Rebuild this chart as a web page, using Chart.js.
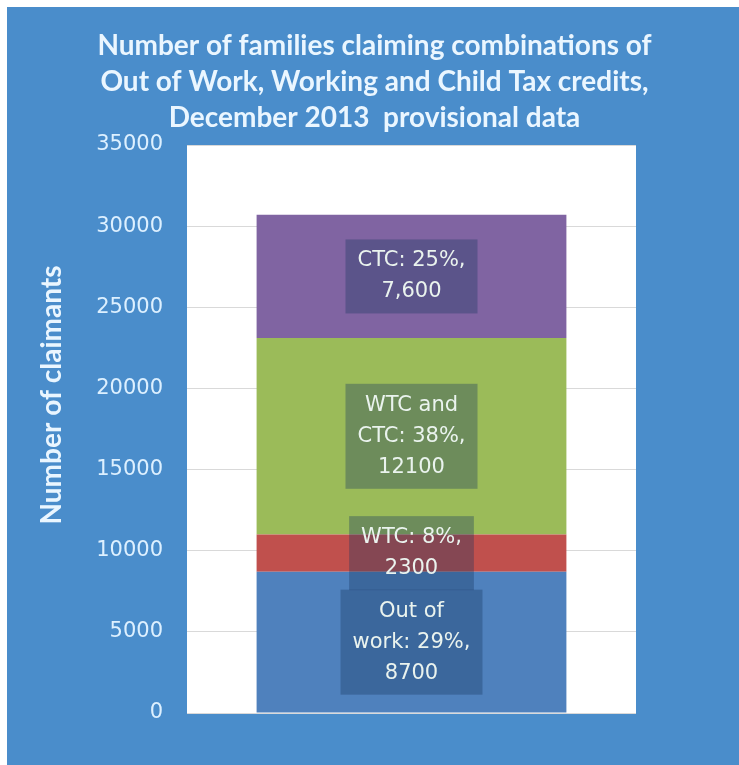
<!DOCTYPE html>
<html>
<head>
<meta charset="utf-8">
<script src="https://cdn.jsdelivr.net/npm/chart.js@4"></script>
<style>
  html, body { margin: 0; padding: 0; background: #ffffff; }
  #wrap { position: relative; width: 739px; height: 765px; }
</style>
</head>
<body>
<div id="wrap"><canvas id="taxChart"></canvas></div>
<script>
// Data
const categories = ['December 2013'];
const seriesNames = ['Out of work', 'WTC', 'WTC and CTC', 'CTC'];
const seriesValues = [8700, 2300, 12100, 7600];
const seriesColors = ['#4F81BD', '#C0504D', '#9BBB59', '#8064A2'];
const segmentLabels = [
    ['Out of', 'work: 29%,', '8700'],
    ['WTC: 8%,', '2300'],
    ['WTC and', 'CTC: 38%,', '12100'],
    ['CTC: 25%,', '7,600']
];
const yMax = 35000;
const yStep = 5000;
const chartTitle = [
    'Number of families claiming combinations of',
    'Out of Work, Working and Child Tax credits,',
    'December 2013  provisional data'
];
const yAxisTitle = 'Number of claimants';

// blue frame and white plot area
const backgroundPlugin = {
    id: 'backgroundPlugin',
    beforeDraw(chart) {
        const ctx = chart.ctx;
        const area = chart.chartArea;
        ctx.save();
        ctx.fillStyle = '#4A8DCB';
        ctx.fillRect(7, 7, chart.width - 7, chart.height - 7);
        ctx.fillStyle = '#ffffff';
        ctx.fillRect(area.left, area.top, area.right - area.left, area.bottom - area.top);
        ctx.restore();
    }
};

// rotated y axis title, sits a bit above the plot centre like the original
const axisTitlePlugin = {
    id: 'axisTitlePlugin',
    afterDraw(chart) {
        const ctx = chart.ctx;
        ctx.save();
        ctx.translate(52, 395);
        ctx.rotate(-Math.PI / 2);
        ctx.font = 'bold 28px Lato';
        ctx.fillStyle = '#EAF6FF';
        ctx.textAlign = 'center';
        ctx.textBaseline = 'middle';
        ctx.fillText(yAxisTitle, 0, 0);
        ctx.restore();
    }
};

// dark translucent boxes with the segment labels
const segmentLabelPlugin = {
    id: 'segmentLabelPlugin',
    afterDatasetsDraw(chart) {
        const ctx = chart.ctx;
        const lineH = 31;
        ctx.save();
        ctx.font = '21px "DejaVu Sans"';
        ctx.textAlign = 'center';
        ctx.textBaseline = 'middle';
        chart.data.datasets.forEach((ds, i) => {
            const bar = chart.getDatasetMeta(i).data[0];
            const lines = segmentLabels[i];
            const cx = bar.x;
            const cy = (bar.y + bar.base) / 2;
            const textW = Math.max(...lines.map(l => ctx.measureText(l).width));
            const boxW = textW + 24;
            const boxH = lines.length * lineH + 12;
            ctx.fillStyle = 'rgba(23, 55, 94, 0.35)';
            ctx.fillRect(cx - boxW / 2, cy - boxH / 2, boxW, boxH);
            ctx.fillStyle = '#EAF3EE';
            lines.forEach((l, k) => {
                ctx.fillText(l, cx, cy - (lines.length - 1) * lineH / 2 + k * lineH);
            });
        });
        ctx.restore();
    }
};

const ctx = document.getElementById('taxChart').getContext('2d');
new Chart(ctx, {
    type: 'bar',
    data: {
        labels: categories,
        datasets: seriesNames.map((name, i) => ({
            label: name,
            data: [seriesValues[i]],
            backgroundColor: seriesColors[i],
            borderWidth: 0,
            categoryPercentage: 1,
            barPercentage: 0.69
        }))
    },
    options: {
        responsive: true,
        maintainAspectRatio: false,
        animation: false,
        layout: { padding: { left: 17, right: 7, top: 7, bottom: 52 } },
        plugins: {
            legend: { display: false },
            tooltip: { enabled: false },
            title: {
                display: true,
                text: chartTitle,
                color: '#EAF6FF',
                font: { family: 'Lato', size: 28, weight: 'bold', lineHeight: 36 / 28 },
                padding: { top: 21, bottom: 9 }
            }
        },
        scales: {
            x: {
                stacked: true,
                display: false
            },
            y: {
                stacked: true,
                min: 0,
                max: yMax,
                afterFit(scale) { scale.width = 170; },
                border: { display: false },
                grid: { color: '#D9D9D9', lineWidth: 1, drawTicks: false },
                ticks: {
                    stepSize: yStep,
                    padding: 24,
                    color: '#DDF0FF',
                    font: { family: 'DejaVu Sans', size: 21 },
                    callback: v => String(v)
                }
            },
            // empty right-hand axis that only reserves the blue margin
            yRight: {
                position: 'right',
                min: 0,
                max: yMax,
                afterFit(scale) { scale.width = 96; },
                border: { display: false },
                grid: { display: false },
                ticks: { display: false }
            }
        }
    },
    plugins: [backgroundPlugin, axisTitlePlugin, segmentLabelPlugin]
});
</script>
</body>
</html>
